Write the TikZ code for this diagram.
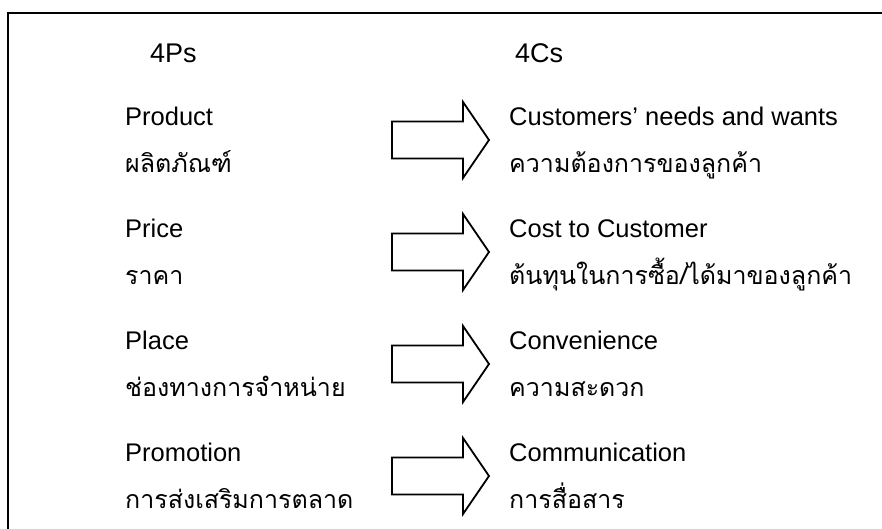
\documentclass[tikz,border=0pt]{standalone}
\usepackage{fontspec}
\setmainfont{Liberation Sans}
\newfontfamily\thaifont[Script=Thai]{Loma}
\begin{document}
\begin{tikzpicture}[x=1pt,y=-1pt,
  lat/.style={anchor=base west,inner sep=0pt,font=\fontsize{25.5}{28}\selectfont},
  thai/.style={anchor=base west,inner sep=0pt,font=\thaifont\fontsize{25}{28}\selectfont},
  head/.style={anchor=base west,inner sep=0pt,font=\fontsize{27}{30}\selectfont},
  blockarrow/.style={draw=black,line width=1.8pt,fill=white,line join=miter}]
\useasboundingbox (0,0) rectangle (882,528);
\begin{scope}
\clip (0,0) rectangle (882,528);
\draw[line width=2pt] (8,540) -- (8,13) -- (895,13);
\end{scope}

\node[head] (hp) at (150,62) {4Ps};
\node[head] (hc) at (515,62) {4Cs};

% one row per P/C pair: left labels, block arrow, right labels
\foreach \i/\pe/\pt/\ce/\ct in {
  0/Product/ผลิตภัณฑ์/Customers’ needs and wants/ความต้องการของลูกค้า,
  1/Price/ราคา/Cost to Customer/{ต้นทุนในการซื้อ/ได้มาของลูกค้า},
  2/Place/ช่องทางการจำหน่าย/Convenience/ความสะดวก,
  3/Promotion/การส่งเสริมการตลาด/Communication/การสื่อสาร}{
  \pgfmathsetmacro{\yl}{125+112*\i}
  \pgfmathsetmacro{\yt}{172+112*\i}
  \pgfmathsetmacro{\ya}{140+112*\i}
  \node[lat]  (pe\i) at (125,\yl) {\pe};
  \node[thai] (pt\i) at (125,\yt) {\pt};
  \node[lat]  (ce\i) at (509,\yl) {\ce};
  \node[thai] (ct\i) at (509,\yt) {\ct};
  \draw[blockarrow] (392,\ya-18.5) -- (463,\ya-18.5) -- (463,\ya-38)
     -- (489,\ya) -- (463,\ya+38) -- (463,\ya+18.5) -- (392,\ya+18.5) -- cycle;
}
\end{tikzpicture}
\end{document}
